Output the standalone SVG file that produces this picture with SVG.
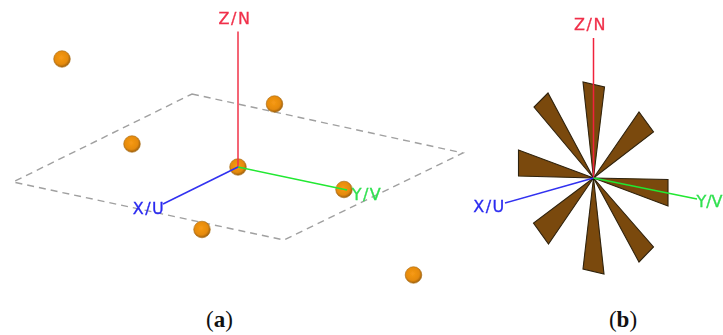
<svg xmlns="http://www.w3.org/2000/svg" width="723" height="335" viewBox="0 0 723 335">
<style>
.ax{fill:none;stroke-width:1.5}
.lb{font-family:"DejaVu Sans","Liberation Sans",sans-serif;font-size:16px;letter-spacing:1.5px;text-anchor:middle;stroke:currentColor;stroke-width:.3}
.cap{font-family:"Liberation Serif",serif;font-size:23px;text-anchor:middle;fill:#111}
.w{fill:#7a4a0c;stroke:#2e2008;stroke-width:1.1}
.plane{fill:none;stroke:#a0a0a0;stroke-width:1.4;stroke-dasharray:7 5}
.s{fill:url(#ball);stroke:#a86a10;stroke-width:.6}
</style>
<defs>
<radialGradient id="ball" cx=".45" cy=".42" r=".62">
<stop offset="0" stop-color="#f79a14"/><stop offset=".65" stop-color="#e58a0c"/><stop offset="1" stop-color="#8c5608"/>
</radialGradient>
<filter id="soft" x="-5%" y="-5%" width="110%" height="110%"><feGaussianBlur stdDeviation=".4"/></filter>
</defs>
<rect width="723" height="335" fill="#fff"/>
<g id="plane-a" filter="url(#soft)"><path class="plane" d="M192 94L463 153L284 240L13 182Z"/></g>
<g id="spheres-a-back" filter="url(#soft)">
<circle id="s1" class="s" cx="62" cy="59" r="8.3"/>
<circle id="s2" class="s" cx="132" cy="144" r="8.3"/>
<circle id="s3" class="s" cx="274.500" cy="104" r="8.3"/>
<circle id="s4" class="s" cx="238" cy="167" r="8.3"/>
<circle id="s5" class="s" cx="344" cy="189.500" r="8.3"/>
<circle id="s6" class="s" cx="202" cy="229.500" r="8.3"/>
<circle id="s7" class="s" cx="413.500" cy="275" r="8.3"/>
</g>
<g id="connectors-a" filter="url(#soft)">
<path class="ax" stroke="#f03048" d="M238 31.500V167"/>
<path class="ax" stroke="#3030f0" d="M238 167L163 204"/>
<path class="ax" stroke="#20e830" d="M238 167L347 190"/>
</g>
<g id="labels-a" filter="url(#soft)">
<text class="lb" x="235" y="24" color="#f0304a" fill="#f0304a">Z/N</text>
<text class="lb" x="149" y="214" color="#2a2af0" fill="#2a2af0">X/U</text>
<text class="lb" x="367" y="200" color="#30e050" fill="#30e050">Y/V</text>
</g>
<g id="wedges-b" filter="url(#soft)">
<path class="w" d="M593.500 178L583 82L604.500 87Z"/>
<path class="w" d="M593.500 178L639 112L653.500 132Z"/>
<path class="w" d="M593.500 178L668 179.500L668 206Z"/>
<path class="w" d="M593.500 178L653.500 247L639 262Z"/>
<path class="w" d="M593.500 178L604 274L583 269Z"/>
<path class="w" d="M593.500 178L548.500 244L533.500 223Z"/>
<path class="w" d="M593.500 178L518.500 176L518.500 150Z"/>
<path class="w" d="M593.500 178L534 107L548 93Z"/>
<circle cx="593.500" cy="178" r="2" fill="#111"/>
</g>
<g id="connectors-b" filter="url(#soft)">
<path class="ax" stroke="#f0203a" d="M593.500 38V178"/>
<path class="ax" stroke="#3030f0" d="M593.500 178L505 203"/>
<path class="ax" stroke="#20e830" d="M593.500 178L697 199"/>
</g>
<g id="labels-b" filter="url(#soft)">
<text class="lb" x="590.500" y="30" color="#f0304a" fill="#f0304a">Z/N</text>
<text class="lb" x="489.500" y="212" color="#2a2af0" fill="#2a2af0">X/U</text>
<text class="lb" x="709.500" y="207" color="#30e050" fill="#30e050" style="letter-spacing:0">Y/V</text>
</g>
<g id="captions">
<text class="cap" x="219.500" y="327">(<tspan font-weight="bold">a</tspan>)</text>
<text class="cap" x="623" y="327">(<tspan font-weight="bold">b</tspan>)</text>
</g>
</svg>
